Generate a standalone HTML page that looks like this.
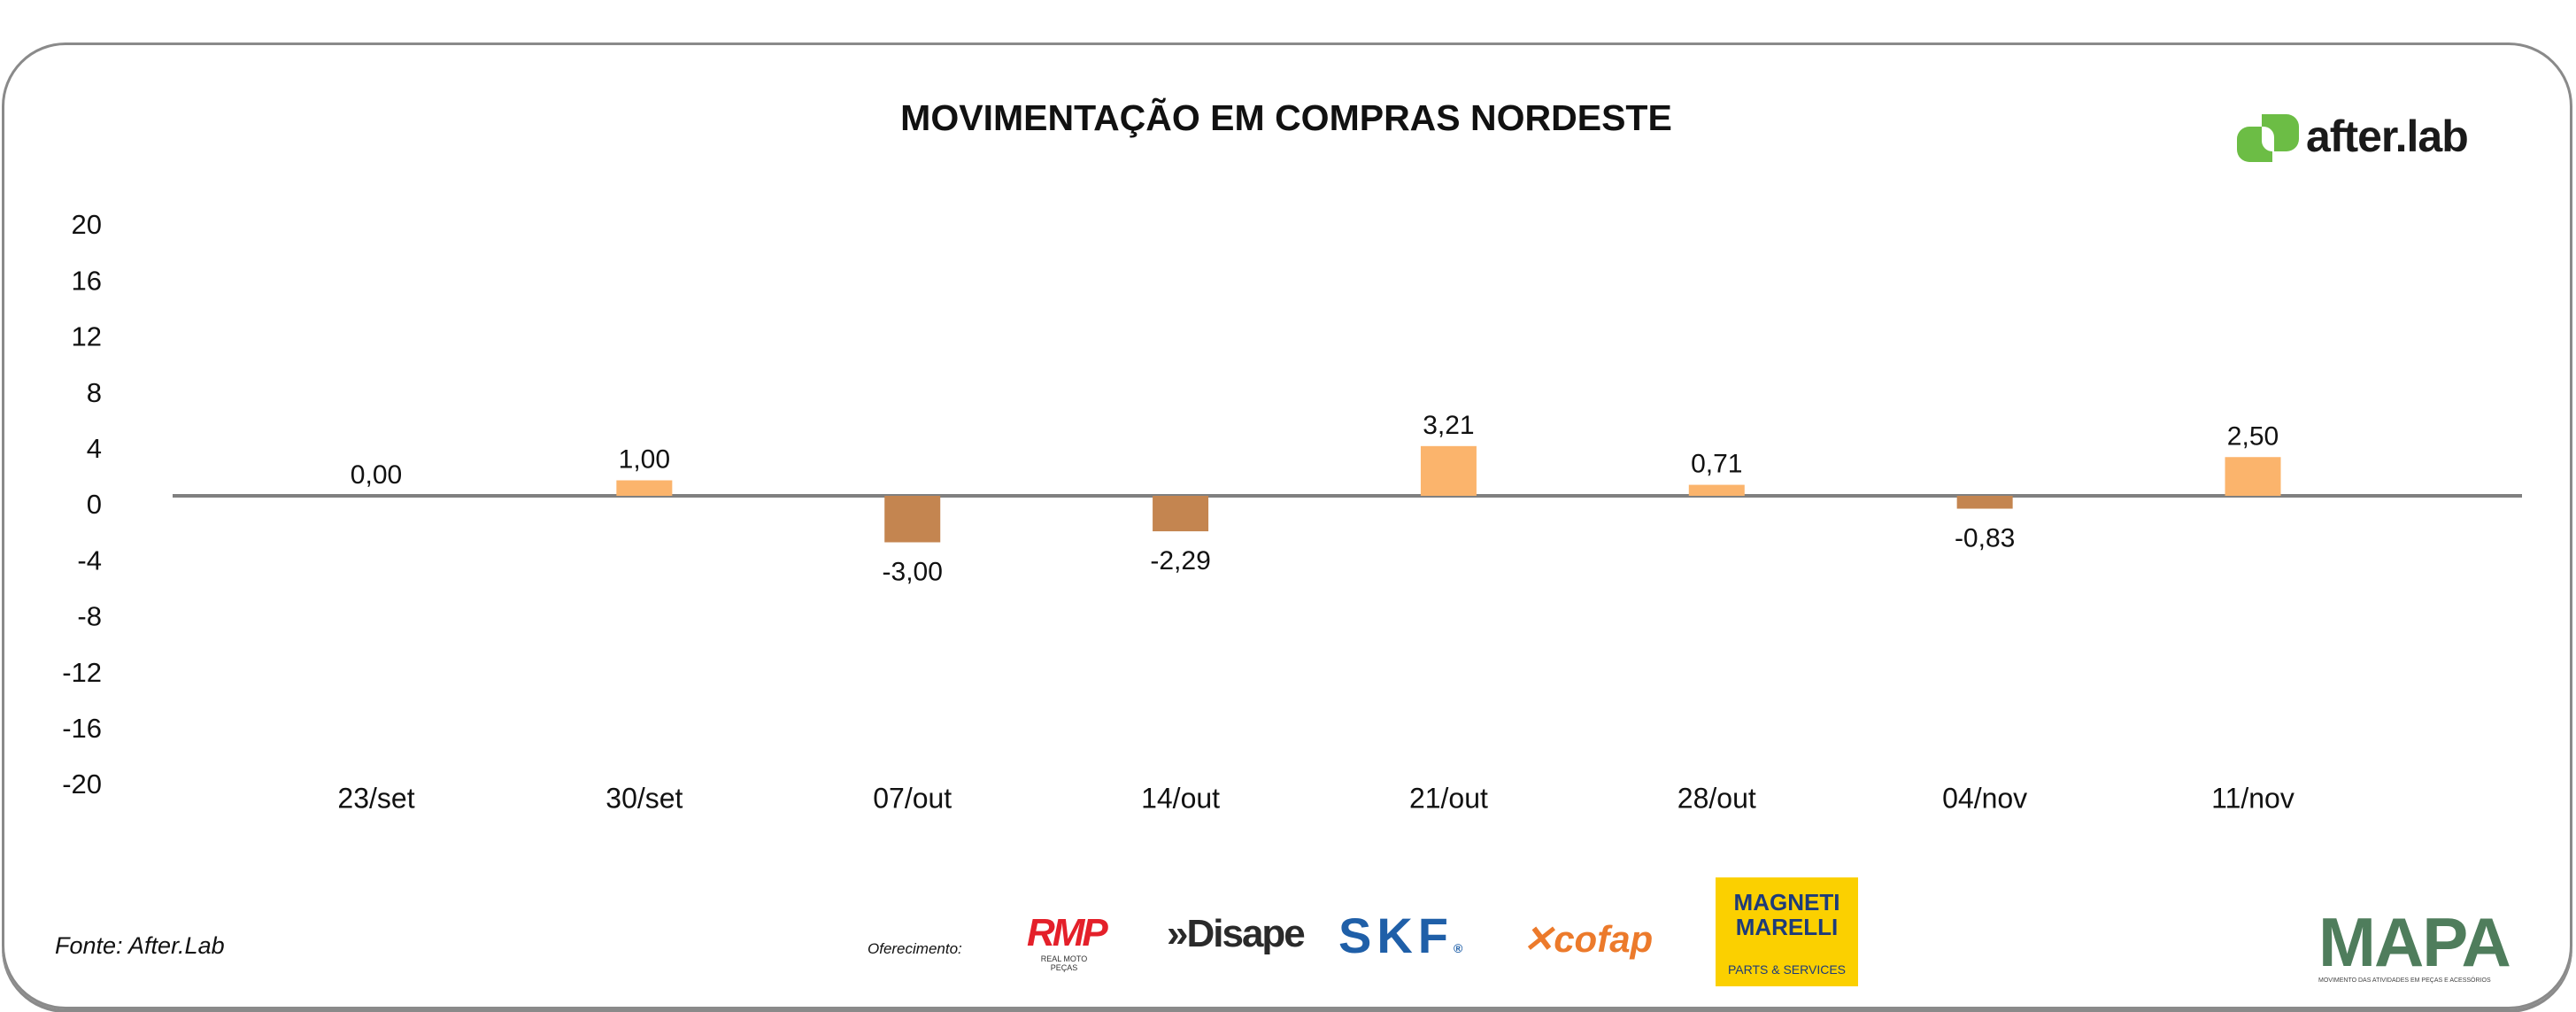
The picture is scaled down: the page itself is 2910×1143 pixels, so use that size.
<!DOCTYPE html>
<html><head><meta charset="utf-8"><style>
html,body{margin:0;padding:0;background:#fff;}
body{width:2910px;height:1143px;position:relative;overflow:hidden;font-family:"Liberation Sans",sans-serif;}
#frame{position:absolute;left:2px;top:48px;width:2898px;height:1086px;border:3px solid #8a8a8a;border-radius:72px;box-shadow:0 4px 0 #8a8a8a;}
.abs{position:absolute;}
</style></head><body>
<div id="frame"></div>
<div class="abs" style="left:0;width:2906px;top:110px;text-align:center;font-weight:bold;font-size:41px;color:#111;">MOVIMENTAÇÃO EM COMPRAS NORDESTE</div>

<div class="abs" style="left:2527px;top:129px;width:300px;height:56px;">
<svg width="72" height="56" style="position:absolute;left:0;top:0">
<path d="M28 0 H56 A14 14 0 0 1 70 14 V28 A14 14 0 0 1 56 42 H42 V26 A12 12 0 0 0 30 14 H28 Z" fill="#6cbd45"/>
<path d="M14 14 H28 V30 A12 12 0 0 0 40 42 V54 H14 A14 14 0 0 1 0 40 V28 A14 14 0 0 1 14 14Z" fill="#6cbd45"/>
</svg>
<div style="position:absolute;left:78px;top:-4px;font-weight:bold;font-size:50px;color:#1a1a1a;letter-spacing:-1px;">after.lab</div>
</div>

<svg id="chart" class="abs" style="left:0;top:0" width="2910" height="1000"></svg>

<div class="abs" style="left:62px;top:1053px;font-style:italic;font-size:27px;color:#111;">Fonte: After.Lab</div>
<div class="abs" style="left:980px;top:1062px;font-style:italic;font-size:17px;color:#111;">Oferecimento:</div>
<div class="abs" style="left:1160px;top:1030px;width:84px;height:60px;">
<div style="font-weight:bold;font-style:italic;font-size:44px;color:#e4202a;letter-spacing:-3px;line-height:48px;">RMP</div>
<div style="font-size:9px;color:#333;text-align:center;">REAL MOTO PEÇAS</div></div>
<div class="abs" style="left:1318px;top:1030px;font-weight:bold;font-size:44px;color:#2a2a2a;letter-spacing:-2px;">»Disape</div>
<div class="abs" style="left:1512px;top:1024px;font-weight:bold;font-size:56px;color:#1f5fa8;letter-spacing:6px;">SKF<span style="font-size:14px;letter-spacing:0">®</span></div>
<div class="abs" style="left:1720px;top:1036px;font-weight:bold;font-style:italic;font-size:42px;color:#ec7a2b;">✕cofap</div>
<div class="abs" style="left:1938px;top:991px;width:161px;height:123px;background:#fbd000;color:#1d3b7a;text-align:center;">
<div style="font-weight:bold;font-size:26px;line-height:28px;padding-top:14px;">MAGNETI<br>MARELLI</div>
<div style="font-size:14px;margin-top:26px;">PARTS &amp; SERVICES</div></div>
<div class="abs" style="left:2619px;top:1024px;width:224px;">
<div style="font-weight:bold;font-size:78px;line-height:80px;color:#4f7d5c;letter-spacing:-2px;">MAPA</div>
<div style="font-size:7px;color:#444;">MOVIMENTO DAS ATIVIDADES EM PEÇAS E ACESSÓRIOS</div></div>

<script>
const categories = ["23/set","30/set","07/out","14/out","21/out","28/out","04/nov","11/nov"];
const values = [0.00, 1.00, -3.00, -2.29, 3.21, 0.71, -0.83, 2.50];
const valueLabels = ["0,00","1,00","-3,00","-2,29","3,21","0,71","-0,83","2,50"];
const yTicks = [20,16,12,8,4,0,-4,-8,-12,-16,-20];

const NS = "http://www.w3.org/2000/svg";
const svg = document.getElementById("chart");
const zeroY = 560, unit = 17.5, tickUnit = 15.8;
const x0 = 425, xStep = (2545 - 425) / (categories.length - 1);
function xScale(i){ return x0 + i * xStep; }
function yScale(v){ return zeroY - v * unit; }
function tickY(v){ return 572 - v * tickUnit; }
function mk(tag, attrs){ const e = document.createElementNS(NS, tag); for (const k in attrs) e.setAttribute(k, attrs[k]); svg.appendChild(e); return e; }

yTicks.forEach(function(t){
  const e = mk("text", {x:115, y:tickY(t), "text-anchor":"end", "dominant-baseline":"middle", "font-size":31, fill:"#111", "font-family":"Liberation Sans, sans-serif"});
  e.textContent = String(t);
  
  
});

const zl = mk("rect", {x:195, y:zeroY-2, width:2654, height:4, fill:"#808080"});



values.forEach(function(v, i){
  const cx = xScale(i), bw = 63;
  const top = Math.min(yScale(v), zeroY), h = Math.abs(yScale(v) - zeroY);
  if (h > 0) {
    const b = mk("rect", {x:cx-bw/2, y:top, width:bw, height:h, fill: v >= 0 ? "#fbb46c" : "#c48550"});
    
    
  }
  const ly = v >= 0 ? yScale(v) - 14 : yScale(v) + 35;
  const t = mk("text", {x:cx, y:ly, "text-anchor":"middle", "dominant-baseline": v >= 0 ? "auto" : "middle", "font-size":30, fill:"#111", "font-family":"Liberation Sans, sans-serif"});
  t.textContent = valueLabels[i];
  
  
  const c = mk("text", {x:cx, y:904, "text-anchor":"middle", "dominant-baseline":"middle", "font-size":32, fill:"#111", "font-family":"Liberation Sans, sans-serif"});
  c.textContent = categories[i];
  
  
});
</script>
</body></html>
